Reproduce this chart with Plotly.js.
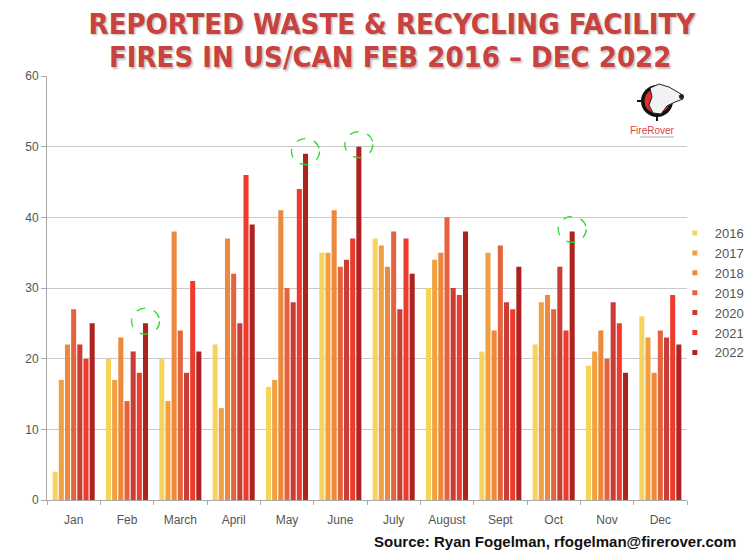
<!DOCTYPE html>
<html>
<head>
<meta charset="utf-8">
<script src="https://cdn.plot.ly/plotly-3.0.1.min.js"></script>
<style>html,body{margin:0;padding:0;background:#fff;}#chart{width:745px;height:552px;}</style>
</head>
<body>
<div id="chart"></div>
<script>
const months = ['Jan','Feb','March','April','May','June','July','August','Sept','Oct','Nov','Dec'];
const years = ['2016','2017','2018','2019','2020','2021','2022'];
const y2016 = [4, 20, 20, 22, 16, 35, 37, 30, 21, 22, 19, 26];
const y2017 = [17, 17, 14, 13, 17, 35, 36, 34, 35, 28, 21, 23];
const y2018 = [22, 23, 38, 37, 41, 41, 33, 35, 24, 29, 24, 18];
const y2019 = [27, 14, 24, 32, 30, 33, 38, 40, 36, 27, 20, 24];
const y2020 = [22, 21, 18, 25, 28, 34, 27, 30, 28, 33, 28, 23];
const y2021 = [20, 18, 31, 46, 44, 37, 37, 29, 27, 24, 25, 29];
const y2022 = [25, 25, 21, 39, 49, 50, 32, 38, 33, 38, 18, 22];
const colors = ['#F8D35C','#F0A040','#EC893C','#E4633D','#C93C37','#EE3B2B','#AC2320'];
const highlightMonths = ['Feb','May','June','Oct'];

const series = [y2016,y2017,y2018,y2019,y2020,y2021,y2022];
const bargap = 0.19, bargroupgap = 0.18;

const traces = series.map((vals, i) => ({
  type: 'bar', x: months, y: vals, name: years[i],
  marker: {color: colors[i]}, showlegend: false, hoverinfo: 'x+y+name'
}));
// legend entries with small square markers
years.forEach((yr, i) => {
  traces.push({type: 'scatter', mode: 'markers', x: [null], y: [null], name: yr,
    marker: {color: colors[i], symbol: 'square', size: 5}, showlegend: true});
});

// green dashed circles around highlighted 2022 bars
const slot = (1 - bargap) / years.length;
const lastOffset = -(1 - bargap) / 2 + slot * (years.length - 0.5);
const shapes = highlightMonths.map(m => {
  const idx = months.indexOf(m);
  return {type: 'circle', xref: 'x', yref: 'y', xsizemode: 'pixel', ysizemode: 'pixel',
    xanchor: idx + lastOffset, yanchor: y2022[idx] + 0.3,
    x0: -14, x1: 14, y0: -13, y1: 13,
    line: {color: '#2EDB2E', width: 1.3, dash: 'dash'}, fillcolor: 'rgba(0,0,0,0)'};
});

// logo (approximation)
const L = {x: (657 - 47) / 640, y: (500 - 101) / 424};
function logoCircle(r, fill) {
  return {type: 'circle', xref: 'paper', yref: 'paper', xsizemode: 'pixel', ysizemode: 'pixel',
    xanchor: L.x, yanchor: L.y, x0: -r, x1: r, y0: -r, y1: r,
    fillcolor: fill, line: {width: 0, color: fill}};
}
shapes.push(logoCircle(16, '#111111'));
shapes.push(logoCircle(12.5, '#E0302C'));
shapes.push({type: 'path', xref: 'paper', yref: 'paper', xsizemode: 'pixel', ysizemode: 'pixel',
  xanchor: L.x, yanchor: L.y,
  path: 'M -7 13 L 2 17 L 12 14 L 24 7 L 26 2 L 18 -1 L 10 -5 L 4 -13 L -4 -12 L -8 -4 L -5 4 Z',
  fillcolor: '#F2F2F2', line: {color: '#222', width: 1}});
shapes.push({type: 'circle', xref: 'paper', yref: 'paper', xsizemode: 'pixel', ysizemode: 'pixel',
  xanchor: L.x, yanchor: L.y, x0: 22, x1: 27, y0: 2, y1: 7, fillcolor: '#222', line: {width: 0}});
shapes.push({type: 'line', xref: 'paper', yref: 'paper', xsizemode: 'pixel', ysizemode: 'pixel',
  xanchor: L.x, yanchor: L.y, x0: 0, x1: 0, y0: -16, y1: -20, line: {color: '#111', width: 2}});
shapes.push({type: 'line', xref: 'paper', yref: 'paper', xsizemode: 'pixel', ysizemode: 'pixel',
  xanchor: L.x, yanchor: L.y, x0: -16, x1: -20, y0: 0, y1: 0, line: {color: '#111', width: 2}});
shapes.push({type: 'line', xref: 'paper', yref: 'paper', xsizemode: 'pixel', ysizemode: 'pixel',
  xanchor: L.x, yanchor: L.y, x0: -17, x1: 17, y0: -36, y1: -36, line: {color: '#c8c8c8', width: 1.5}});

const titleFont = {family: '"DejaVu Sans Condensed", sans-serif',
  size: 29, color: '#C8423F', weight: 700, shadow: '1.5px 1.5px 2px rgba(0,0,0,0.25)'};

const layout = {
  width: 745, height: 552,
  paper_bgcolor: '#ffffff', plot_bgcolor: '#ffffff',
  margin: {l: 47, r: 58, t: 76, b: 52, autoexpand: false},
  title: {text: 'REPORTED WASTE &amp; RECYCLING FACILITY', font: titleFont,
    xref: 'container', yref: 'container', x: 0.526, xanchor: 'center', y: 0.957, yanchor: 'middle'},
  barmode: 'group', bargap: bargap, bargroupgap: bargroupgap,
  font: {family: '"Liberation Sans", Arial, sans-serif', color: '#555'},
  xaxis: {type: 'category', showline: true, linecolor: '#aaaaaa', linewidth: 1,
    ticks: 'outside', tickson: 'boundaries', ticklen: 4, tickcolor: '#aaaaaa',
    ticklabelstandoff: 9,
    tickfont: {size: 12, color: '#555'}, showgrid: false, fixedrange: true},
  yaxis: {range: [0, 60], dtick: 10, showline: true, linecolor: '#aaaaaa', linewidth: 1,
    ticks: 'outside', ticklen: 5, tickcolor: '#aaaaaa', gridcolor: '#c9c9c9', gridwidth: 1,
    tickfont: {size: 12, color: '#555'}, zeroline: false, fixedrange: true},
  legend: {x: 0.981, xanchor: 'left', y: 0.665, yanchor: 'top', bgcolor: 'rgba(0,0,0,0)',
    font: {size: 13, color: '#555'}, tracegroupgap: 0},
  shapes: shapes,
  annotations: [
    {text: 'FIRES IN US/CAN FEB 2016 – DEC 2022', font: titleFont, xref: 'paper', yref: 'paper',
      x: 0.536, y: 1.045, xanchor: 'center', yanchor: 'middle', showarrow: false},
    {text: 'Source: Ryan Fogelman, rfogelman@firerover.com', xref: 'paper', yref: 'paper',
      x: 1.0797, y: -0.0967, xanchor: 'right', yanchor: 'middle', showarrow: false,
      font: {family: '"Liberation Sans", Arial, sans-serif', size: 15, color: '#111', weight: 700}},
    {text: 'FireRover', xref: 'paper', yref: 'paper', x: (652 - 47) / 640, y: (500 - 130) / 424,
      xanchor: 'center', yanchor: 'middle', showarrow: false,
      font: {family: '"Liberation Sans", Arial, sans-serif', size: 10, color: '#D8434A'}}
  ]
};

Plotly.newPlot('chart', traces, layout, {displayModeBar: false, staticPlot: true});
</script>
</body>
</html>
